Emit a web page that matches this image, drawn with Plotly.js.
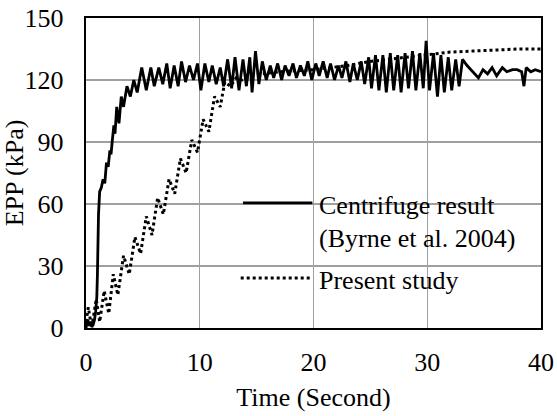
<!DOCTYPE html>
<html>
<head>
<meta charset="utf-8">
<script src="https://cdn.plot.ly/plotly-3.0.1.min.js"></script>
<style>html,body{margin:0;padding:0;background:#fff;}#chart{width:557px;height:416px;}</style>
</head>
<body>
<div id="chart"></div>
<script>
// Centrifuge result (Byrne et al. 2004)
const centrifugeTime = [0, 0.15, 0.3, 0.45, 0.6, 0.75, 0.85, 0.95, 1.0, 1.05, 1.1, 1.2, 1.35, 1.5, 1.65, 1.8, 1.95, 2.1, 2.2, 2.3, 2.45, 2.55, 2.7, 2.9, 3.1, 3.3, 3.6, 3.9, 4.2, 4.5, 4.9, 5.3, 5.7, 6.0, 6.4,
  6.75, 7.1, 7.4, 7.75, 8.1, 8.4, 8.75, 9.1, 9.45, 9.8, 10.1, 10.45, 10.8, 11.1, 11.45, 11.8, 12.1, 12.45, 12.8, 13.1, 13.45, 13.8, 14.1, 14.4, 14.6, 14.9,
  15.2, 15.5, 15.85, 16.2, 16.5, 16.85, 17.2, 17.5, 17.85, 18.2, 18.5, 18.85, 19.2, 19.5, 19.85, 20.2, 20.5, 20.85, 21.2, 21.5, 21.85, 22.2, 22.5, 22.85,
  23.2, 23.5, 23.85, 24.2, 24.5, 24.85, 25.1, 25.45, 25.75, 26.1, 26.4, 26.75, 27.05, 27.4, 27.7, 28.05, 28.35, 28.7, 29.0, 29.35, 29.65, 29.9, 30.2,
  30.55, 30.9, 31.2, 31.5, 31.85, 32.15, 32.5, 32.8, 33.1, 33.5, 34.0, 34.5, 34.9, 35.3, 35.7, 36.1, 36.6, 37.0, 37.5, 37.9, 38.3, 38.5, 38.7, 39.1, 39.5, 40];
const centrifugeEPP = [0, 4, 1, 3, 1, 4, 8, 15, 25, 45, 55, 66, 68, 72, 70, 80, 78, 86, 84, 90, 98, 94, 107, 99, 112, 107, 117, 112, 120, 114, 126, 115, 126, 117, 126,
  118, 128, 116, 127, 117, 129, 119, 127, 120, 128, 115, 128, 119, 127, 118, 126, 117, 130, 116, 131, 115, 130, 117, 131, 114, 134,
  118, 129, 120, 127, 121, 128, 120, 127, 122, 128, 121, 127, 122, 129, 120, 128, 122, 129, 121, 128, 120, 127, 121, 129,
  119, 128, 120, 129, 118, 131, 116, 132, 115, 132, 114, 133, 115, 132, 114, 133, 116, 134, 115, 133, 116, 139, 115,
  133, 112, 132, 114, 131, 115, 130, 117, 130, 127, 124, 121, 125, 123, 126, 122, 126, 124, 125, 125, 124, 117, 126, 124, 125, 124];

// Present study
const presentTime = [0, 0.2, 0.5, 0.9, 1.2, 1.6, 2.0, 2.4, 2.8, 3.3, 3.8, 4.3, 4.8, 5.3, 5.8, 6.3, 6.8, 7.3, 7.8, 8.3, 8.8, 9.3, 9.8, 10.3, 10.8, 11.3, 11.8, 12.2,
  12.7, 13.2, 13.7, 14.5, 15.5, 17, 20, 23, 25, 28, 30, 32, 34, 36, 38, 40];
const presentEPP = [3, 10, 0, 14, 3, 18, 7, 26, 16, 35, 26, 44, 36, 54, 45, 63, 55, 72, 65, 82, 75, 91, 85, 101, 95, 112, 107, 119,
  117, 121, 120, 122, 123, 124, 125, 127, 129, 131, 132.5, 133.5, 134, 134.5, 135, 135];

const xTicks = [0, 10, 20, 30, 40];
const yTicks = [0, 30, 60, 90, 120, 150];

const FONT = 'Liberation Serif, Times New Roman, serif';
const FS = 26;

const traces = [
  {x: centrifugeTime, y: centrifugeEPP, mode: 'lines', name: 'Centrifuge result (Byrne et al. 2004)',
   line: {color: '#000', width: 2.8}, showlegend: false},
  {x: presentTime, y: presentEPP, mode: 'lines', name: 'Present study',
   line: {color: '#000', width: 3, dash: '3px,3px'}, showlegend: false}
];

const layout = {
  width: 557, height: 416,
  margin: {l: 86, r: 16, t: 18, b: 88},
  paper_bgcolor: '#fff', plot_bgcolor: '#fff',
  font: {family: FONT, size: FS, color: '#000'},
  showlegend: false,
  xaxis: {
    range: [0, 40], tickvals: xTicks, ticktext: xTicks.map(String),
    showgrid: true, gridcolor: '#a0a0a0', gridwidth: 1.3, zeroline: false,
    showline: true, linecolor: '#000', linewidth: 2.2, mirror: true,
    ticks: 'outside', ticklen: 10, tickcolor: 'rgba(0,0,0,0)',
    tickfont: {family: FONT, size: FS, color: '#000'},
    title: {text: 'Time (Second)', font: {family: FONT, size: FS, color: '#000'}, standoff: 11}
  },
  yaxis: {
    range: [0, 150], tickvals: yTicks, ticktext: yTicks.map(String),
    showgrid: true, gridcolor: '#a0a0a0', gridwidth: 1.3, zeroline: false,
    showline: true, linecolor: '#000', linewidth: 2.2, mirror: true,
    ticks: 'outside', ticklen: 15, tickcolor: 'rgba(0,0,0,0)',
    tickfont: {family: FONT, size: FS, color: '#000'},
    title: {text: 'EPP (kPa)', font: {family: FONT, size: FS, color: '#000'}, standoff: 10}
  },
  shapes: [
    {type: 'line', xref: 'x', yref: 'y', x0: 13.8, x1: 19.9, y0: 60.5, y1: 60.5, line: {color: '#000', width: 2.8}},
    {type: 'line', xref: 'x', yref: 'y', x0: 13.6, x1: 19.7, y0: 24.2, y1: 24.2, line: {color: '#000', width: 3, dash: '3px,3px'}}
  ],
  annotations: [
    {xref: 'x', yref: 'y', x: 20.3, y: 59.5, xanchor: 'left', yanchor: 'middle', showarrow: false, text: 'Centrifuge result', font: {family: FONT, size: FS, color: '#000'}},
    {xref: 'x', yref: 'y', x: 20.3, y: 43.5, xanchor: 'left', yanchor: 'middle', showarrow: false, text: '(Byrne et al. 2004)', font: {family: FONT, size: FS, color: '#000'}},
    {xref: 'x', yref: 'y', x: 20.3, y: 23.2, xanchor: 'left', yanchor: 'middle', showarrow: false, text: 'Present study', font: {family: FONT, size: FS, color: '#000'}}
  ]
};

Plotly.newPlot('chart', traces, layout, {staticPlot: true, displayModeBar: false});
</script>
</body>
</html>
